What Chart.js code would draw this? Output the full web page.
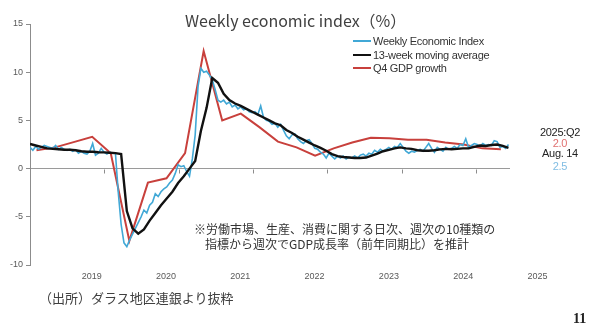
<!DOCTYPE html>
<html>
<head>
<meta charset="utf-8">
<script src="https://cdn.jsdelivr.net/npm/chart.js@4/dist/chart.umd.min.js"></script>
<style>
  body { margin: 0; background: #fff; }
  #wrap { position: relative; width: 600px; height: 327px; background: #fff; overflow: hidden; }
  #wrap canvas { position: absolute; left: 0; top: 0; }
  .txt { position: absolute; white-space: nowrap; font-family: "Liberation Sans", Arial, sans-serif; color: #333; }
  .jp { font-family: "Noto Sans CJK JP", sans-serif; }
  .title { left: 185px; top: 9px; font-size: 16px; line-height: 22px; color: #404040; }
  .leg { left: 353px; font-size: 11px; line-height: 14px; letter-spacing: -0.3px; color: #333; }
  .leg i { display: inline-block; width: 18px; height: 2px; vertical-align: middle; margin-right: 2px; margin-top: -2px; }
  .side { left: 529px; width: 62px; text-align: center; font-size: 11px; line-height: 12px; letter-spacing: -0.3px; }
  .note { font-size: 12px; line-height: 15px; color: #333; }
  .src { left: 39px; top: 289px; font-size: 13px; line-height: 17px; color: #404040; }
  .page { left: 573px; top: 311px; font-family: "Liberation Serif", serif; font-weight: bold; font-size: 14px; line-height: 16px; color: #222; }
</style>
</head>
<body>
<div id="wrap">
  <canvas id="chart" width="600" height="327"></canvas>
  <div class="txt jp title">Weekly economic index（%）</div>
  <div class="txt leg" style="top:34px"><i style="background:#41a8d6"></i>Weekly Economic Index</div>
  <div class="txt leg" style="top:48px"><i style="background:#111"></i>13-week moving average</div>
  <div class="txt leg" style="top:61px"><i style="background:#c8403c"></i>Q4 GDP growth</div>
  <div class="txt side" style="top:126px;color:#222">2025:Q2</div>
  <div class="txt side" style="top:137px;color:#e07070">2.0</div>
  <div class="txt side" style="top:147px;color:#222">Aug. 14</div>
  <div class="txt side" style="top:160px;color:#80bde3">2.5</div>
  <div class="txt jp note" style="left:194px;top:221px">※労働市場、生産、消費に関する日次、週次の10種類の</div>
  <div class="txt jp note" style="left:205px;top:236px">指標から週次でGDP成長率（前年同期比）を推計</div>
  <div class="txt jp src">（出所）ダラス地区連銀より抜粋</div>
  <div class="txt page">11</div>
</div>
<script>
/* Dallas Fed weekly economic index, redrawn */

// x axis: decimal years
const yearTicks = [2020, 2021, 2022, 2023, 2024, 2025];
const yearLabels = ['2019', '2020', '2021', '2022', '2023', '2024', '2025'];
const yTicks = [-10, -5, 0, 5, 10, 15];

// weekly economic index, sampled every two weeks from the start of 2019
const weiStart = 2019.0;
const weiValues = [
    2.2, 1.9, 2.3, 2.0, 2.2, 2.4, 2.3, 2.2, 2.1, 2.4,
    2.0, 2.2, 2.0, 1.9, 2.0, 1.8, 1.95, 1.6, 1.8, 1.6,
    1.5, 1.8, 2.6, 1.4, 1.6, 2.1, 1.7, 1.5, 1.7, 1.6,
    1.6, -2.5, -5.8, -7.7, -8.1, -7.4, -6.8, -6.2, -5.6, -5.0,
    -4.3, -4.6, -3.8, -3.5, -2.6, -2.9, -2.4, -2.1, -1.9, -1.5,
    -1.2, -0.5, 0.4, 0.2, 0.3, -0.3, -0.8, 1.0, 3.5, 8.5,
    10.4, 10.0, 10.1, 9.7, 9.2, 8.2, 7.1, 6.9, 7.1, 6.7,
    6.9, 6.4, 6.6, 6.2, 6.4, 6.1, 6.2, 5.9, 5.8, 5.9,
    5.6, 6.5, 5.3, 5.0, 4.9, 4.6, 4.7, 4.3, 4.6, 4.0,
    3.4, 3.1, 3.5, 3.6, 3.1, 2.8, 2.6, 2.9, 3.0, 2.6,
    2.1, 2.0, 1.7, 1.5, 1.1, 1.6, 1.3, 1.0, 1.3, 1.1,
    1.3, 1.0, 1.2, 1.1, 1.3, 1.1, 1.4, 1.5, 1.3, 1.6,
    1.5, 1.9, 1.7, 2.0, 1.8, 2.0, 2.2, 2.0, 2.3, 2.2,
    2.6, 2.2, 1.8, 1.6, 1.8, 1.7, 1.9, 2.0, 1.8, 2.2,
    2.6, 2.1, 1.7, 2.2, 2.0, 1.8, 2.2, 2.0, 2.1, 2.3,
    2.1, 2.5, 2.4, 3.1, 2.2, 2.4, 2.6, 2.5, 2.3, 2.6,
    2.4, 2.5, 2.4, 2.9, 2.8, 2.2, 2.3, 2.1, 2.5,
];

// 13-week moving average, sampled every four weeks
const maValues = [
    2.55, 2.4, 2.25, 2.1, 2.05, 2.0, 1.95, 1.95, 1.9, 1.8,
    1.75, 1.75, 1.7, 1.68, 1.65, 1.6, 1.5, -4.4, -6.2, -6.75,
    -6.3, -5.4, -4.6, -3.8, -3.1, -2.4, -1.5, -0.8, 0.0, 0.8,
    3.9, 6.3, 9.4, 8.9, 7.75, 7.1, 6.75, 6.5, 6.2, 5.9,
    5.6, 5.3, 5.0, 4.7, 4.5, 4.0, 3.7, 3.3, 3.0, 2.7,
    2.4, 2.15, 1.85, 1.5, 1.3, 1.2, 1.15, 1.1, 1.1, 1.15,
    1.35, 1.55, 1.8, 1.95, 2.1, 2.2, 2.1, 2.05, 1.9, 1.85,
    1.85, 1.9, 2.0, 2.05, 2.0, 2.05, 2.1, 2.1, 2.25, 2.4,
    2.35, 2.45, 2.5, 2.35, 2.15,
];

// four-quarter GDP growth
const quarters = [
    '2019Q1', '2019Q2', '2019Q3', '2019Q4', '2020Q1', '2020Q2', '2020Q3', '2020Q4',
    '2021Q1', '2021Q2', '2021Q3', '2021Q4', '2022Q1', '2022Q2', '2022Q3', '2022Q4',
    '2023Q1', '2023Q2', '2023Q3', '2023Q4', '2024Q1', '2024Q2', '2024Q3', '2024Q4',
    '2025Q1', '2025Q2',
];
const gdpGrowth = [
    1.9, 2.2, 2.75, 3.3, 1.6, -7.5, -1.45, -1.0,
    1.6, 12.2, 5.0, 5.7, 4.3, 2.8, 2.2, 1.35,
    2.1, 2.7, 3.2, 3.15, 3.0, 3.0, 2.7, 2.5,
    2.1, 2.0,
];

const COLORS = {
    wei: '#41a8d6',
    ma: '#111111',
    gdp: '#c8403c',
    axis: '#8c8c8c',
    tick: '#595959',
};

const weiData = weiValues.map((v, i) => ({ x: weiStart + i * 14 / 365.25, y: v }));
const maData = maValues.map((v, i) => ({ x: weiStart + i * 28 / 365.25, y: v }));
const gdpData = quarters.map((q, i) => {
    const yr = +q.slice(0, 4);
    const qn = +q.slice(5);
    return { x: yr + (qn - 1) / 4 + 0.087, y: gdpGrowth[i] };
});

// year ticks on the zero line and year labels below the plot
const yearAxis = {
    id: 'yearAxis',
    afterDraw(chart) {
        const { ctx, scales: { x, y } } = chart;
        const y0 = Math.round(y.getPixelForValue(0)) + 0.5;
        ctx.save();
        ctx.strokeStyle = COLORS.axis;
        ctx.lineWidth = 1;
        ctx.beginPath();
        for (const yr of yearTicks) {
            const px = Math.round(x.getPixelForValue(yr)) + 0.5;
            ctx.moveTo(px, y0);
            ctx.lineTo(px, y0 + 4);
        }
        ctx.stroke();
        ctx.fillStyle = COLORS.tick;
        ctx.font = '9px "Liberation Sans", Arial, sans-serif';
        ctx.textAlign = 'center';
        ctx.textBaseline = 'middle';
        yearLabels.forEach(lbl => {
            ctx.fillText(lbl, x.getPixelForValue(+lbl + 0.83), 277);
        });
        ctx.restore();
    },
};

const lineStyle = { pointRadius: 0, tension: 0, fill: false };

new Chart(document.getElementById('chart'), {
    type: 'line',
    data: {
        datasets: [
            { label: 'Weekly Economic Index', data: weiData, borderColor: COLORS.wei, borderWidth: 1.6, order: 1, ...lineStyle },
            { label: '13-week moving average', data: maData, borderColor: COLORS.ma, borderWidth: 2.4, order: 0, ...lineStyle },
            { label: 'Q4 GDP growth', data: gdpData, borderColor: COLORS.gdp, borderWidth: 2, order: 2, ...lineStyle },
        ],
    },
    options: {
        responsive: false,
        animation: false,
        devicePixelRatio: 1,
        layout: { padding: { left: 0, right: 90, top: 24, bottom: 62 } },
        plugins: { legend: { display: false }, tooltip: { enabled: false } },
        scales: {
            x: {
                type: 'linear',
                min: 2019.0,
                max: 2025.46,
                display: false,
            },
            y: {
                min: -10,
                max: 15,
                afterBuildTicks: s => { s.ticks = yTicks.map(v => ({ value: v })); },
                afterFit: s => { s.width = 30; },
                border: { display: true, color: COLORS.axis, width: 1 },
                grid: {
                    drawOnChartArea: true,
                    color: c => (c.tick && c.tick.value === 0 ? '#9a9a9a' : 'rgba(0,0,0,0)'),
                    tickColor: COLORS.axis,
                    tickLength: 4,
                    lineWidth: 1,
                },
                ticks: {
                    padding: 3,
                    color: COLORS.tick,
                    font: { size: 9, family: '"Liberation Sans", Arial, sans-serif' },
                },
            },
        },
    },
    plugins: [yearAxis],
});
</script>
</body>
</html>
